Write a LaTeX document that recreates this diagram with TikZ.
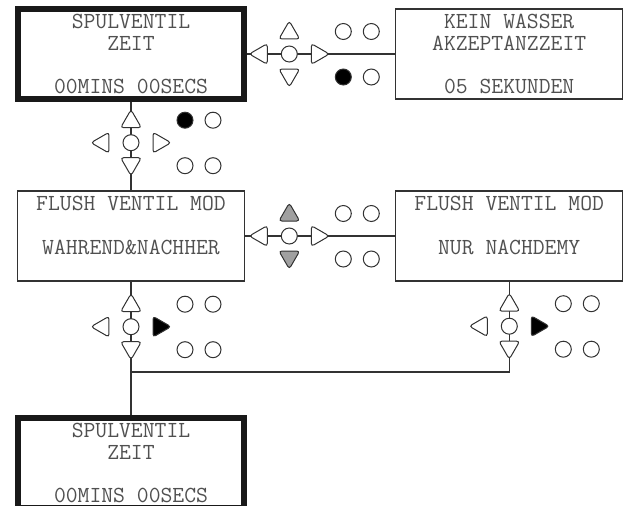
\documentclass[tikz,border=0pt]{standalone}
\usepackage{fontspec}
\usetikzlibrary{positioning,calc,shapes.geometric}
\definecolor{wireline}{RGB}{50,50,50}
\definecolor{lcdtext}{RGB}{80,80,80}
\definecolor{keygray}{RGB}{160,160,160}

% one navigation pad: knob, four arrow keys and four leds
\newcommand{\keypad}[7]{%
  \node[knob] (#1) at (#2) {};
  \node[keytri,fill=#3,above=6pt of #1] (#1-up) {};
  \node[keytri,fill=#4,shape border rotate=180,below=6pt of #1] (#1-down) {};
  \node[keytri,shape border rotate=90,left=13pt of #1] (#1-left) {};
  \node[keytri,fill=#5,shape border rotate=270,right=13pt of #1] (#1-right) {};
  \node[led,fill=#6] (#1-a) at ($(#1)+(54,-22.5)$) {};
  \node[led] (#1-b) at ($(#1)+(82,-22.5)$) {};
  \node[led,fill=#7] (#1-c) at ($(#1)+(54,23)$) {};
  \node[led] (#1-d) at ($(#1)+(82,23)$) {};
}

\begin{document}
\begin{tikzpicture}[
    x=1pt,y=-1pt,
    lcd/.style={rectangle,draw=wireline,line width=1.2pt,fill=white,
      minimum width=227pt,minimum height=90pt,inner sep=0pt,align=center,
      text=lcdtext,font=\ttfamily\fontsize{23}{21.7}\selectfont},
    lcdsel/.style={lcd,draw=black!90,line width=6pt,minimum width=226pt},
    knob/.style={circle,draw=wireline,fill=white,line width=1pt,
      minimum size=16pt,inner sep=0pt},
    led/.style={knob},
    keytri/.style={regular polygon,regular polygon sides=3,draw=wireline,
      fill=white,line width=1pt,minimum size=24pt,inner sep=0pt,
      rounded corners=3pt},
    wire/.style={draw=wireline,line width=1.2pt}
  ]
    \useasboundingbox (0,0) rectangle (630,506);
    \clip (0,0) rectangle (630,506);

    \node[lcdsel] (spulA) at (131,54) {SPULVENTIL\\ZEIT\\\mbox{}\\00MINS 00SECS};
    \node[lcd] (kein) at (509.2,54) {KEIN WASSER\\AKZEPTANZZEIT\\\mbox{}\\05 SEKUNDEN};
    \node[lcd] (flushA) at (131,236) {FLUSH VENTIL MOD\\\mbox{}\\WAHREND\&NACHHER\\\mbox{}};
    \node[lcd] (flushB) at (509.2,236) {FLUSH VENTIL MOD\\\mbox{}\\NUR NACHDEMY\\\mbox{}};
    \node[lcdsel] (spulB) at (131,463) {SPULVENTIL\\ZEIT\\\mbox{}\\00MINS 00SECS};
    \coordinate (join) at (131,372);

    \draw[wire] (spulA.east) -- (kein.west);
    \draw[wire] (spulA.south) -- (flushA.north);
    \draw[wire] (flushA.east) -- (flushB.west);
    \draw[wire] (flushA.south) -- (join) -| (flushB.south);
    \draw[wire] (join) -- (spulB.north);

    \keypad{kpA}{289.3,54}{white}{white}{white}{white}{black}
    \keypad{kpB}{131,142.7}{white}{white}{white}{black}{white}
    \keypad{kpC}{289.3,236}{keygray}{keygray}{white}{white}{white}
    \keypad{kpD}{131,326.7}{white}{white}{black}{white}{white}
    \keypad{kpE}{509.3,326.2}{white}{white}{black}{white}{white}
\end{tikzpicture}
\end{document}
